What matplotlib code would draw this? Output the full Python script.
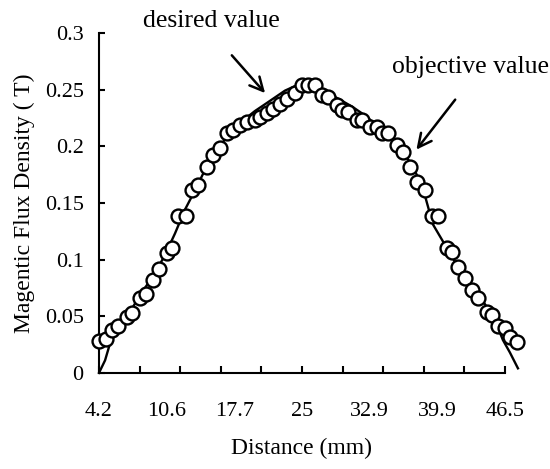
import matplotlib
matplotlib.use("Agg")
import matplotlib.pyplot as plt
import numpy as np

plt.rcParams['font.family'] = ['Liberation Serif', 'DejaVu Serif']

# circles (objective value)
obj_x = [4.2, 4.93, 5.55, 6.18, 7.12, 7.64, 8.47, 9.10, 9.83, 10.45, 11.29, 11.81,
         12.43, 13.26, 13.89, 14.51, 15.45, 16.08, 16.81, 17.54, 18.16, 18.89,
         19.62, 20.45, 20.97, 21.70, 22.33, 23.06, 23.79, 24.62, 25.35, 25.98,
         26.70, 27.43, 28.06, 29.00, 29.52, 30.14, 31.08, 31.60, 32.44, 33.17,
         33.69, 34.31, 35.25, 35.87, 36.60, 37.33, 38.17, 38.89, 39.52, 40.46,
         40.98, 41.60, 42.33, 43.06, 43.69, 44.63, 45.15, 45.77, 46.50, 47.02, 47.75]
obj_y = [0.028, 0.030, 0.038, 0.041, 0.049, 0.053, 0.066, 0.070, 0.082, 0.092, 0.106, 0.110,
         0.138, 0.138, 0.161, 0.166, 0.182, 0.192, 0.198, 0.212, 0.214, 0.219,
         0.221, 0.223, 0.226, 0.229, 0.233, 0.237, 0.242, 0.247, 0.254, 0.254,
         0.254, 0.245, 0.243, 0.236, 0.232, 0.230, 0.223, 0.223, 0.217, 0.217,
         0.212, 0.212, 0.201, 0.195, 0.182, 0.168, 0.161, 0.138, 0.138, 0.110,
         0.107, 0.093, 0.084, 0.073, 0.066, 0.054, 0.051, 0.041, 0.040, 0.032, 0.027]

# solid curve (desired value)
des_x = [4.2, 4.83, 5.35, 6.39, 7.43, 8.68, 10.03, 11.08, 12.12, 13.16, 14.20, 15.24,
         16.29, 17.33, 18.37, 19.41, 20.45, 21.50, 22.54, 23.58, 24.62, 25.46, 26.39,
         27.43, 28.48, 29.52, 30.56, 31.60, 32.64, 33.69, 34.73, 35.77, 36.81, 37.85,
         39.0, 40.25, 41.50, 42.54, 43.58, 44.63, 45.67, 46.29, 47.02, 47.86]
des_y = [0.000, 0.011, 0.026, 0.042, 0.054, 0.071, 0.088, 0.104, 0.123, 0.144, 0.161, 0.179,
         0.194, 0.206, 0.216, 0.224, 0.231, 0.237, 0.243, 0.249, 0.253, 0.256, 0.255,
         0.251, 0.245, 0.240, 0.235, 0.229, 0.222, 0.215, 0.207, 0.197, 0.183, 0.166,
         0.131, 0.113, 0.095, 0.082, 0.071, 0.058, 0.042, 0.029, 0.018, 0.004]

x_labels = ['4.2', '10.6', '17.7', '25', '32.9', '39.9', '46.5']
y_ticks = [0, 0.05, 0.1, 0.15, 0.2, 0.25, 0.3]
y_labels = ['0', '0.05', '0.1', '0.15', '0.2', '0.25', '0.3']

fig = plt.figure(figsize=(5.5, 4.69), dpi=100)
ax = fig.add_axes([0.18, 0.205, 0.738, 0.725])

ax.plot(des_x, des_y, color='black', lw=1.7, clip_on=False, zorder=2)
ax.plot(obj_x, obj_y, linestyle='none', marker='o', markersize=10,
        markerfacecolor='white', markeredgecolor='black', markeredgewidth=1.7,
        clip_on=False, zorder=3)

ax.set_xlim(4.2, 46.5)
ax.set_ylim(0, 0.3)

for s in ['top', 'right']:
    ax.spines[s].set_visible(False)
for s in ['left', 'bottom']:
    ax.spines[s].set_linewidth(1.5)

# ticks every tenth of the range, labels at seven evenly spaced places
ax.xaxis.remove_overlapping_locs = False
ax.set_xticks(np.linspace(4.2, 46.5, 11))
ax.set_xticklabels([])
ax.set_xticks(np.linspace(4.2, 46.5, len(x_labels)), minor=True)
ax.set_xticklabels(x_labels, minor=True, fontsize=16)
ax.tick_params(axis='x', which='major', direction='in', length=5, width=1.5)
ax.tick_params(axis='x', which='minor', length=0, pad=21)

ax.set_yticks(y_ticks)
ax.set_yticklabels(y_labels, fontsize=16)
ax.tick_params(axis='y', direction='in', length=4, width=1.5, pad=11)

ax.set_xlabel('Distance (mm)', fontsize=17, labelpad=12)
ax.set_ylabel('Magentic Flux Density ( T)', fontsize=17, labelpad=7)

ax.annotate('', xy=(21.7, 0.245), xytext=(17.85, 0.282),
            arrowprops=dict(arrowstyle='->', lw=1.8, color='black', mutation_scale=24),
            annotation_clip=False)
ax.text(15.9, 0.310, 'desired value', fontsize=18.5, ha='center', va='center')

ax.annotate('', xy=(37.1, 0.195), xytext=(41.5, 0.243),
            arrowprops=dict(arrowstyle='->', lw=1.8, color='black', mutation_scale=24),
            annotation_clip=False)
ax.text(42.96, 0.270, 'objective value', fontsize=18.5, ha='center', va='center')

fig.savefig('out.png', dpi=100)
